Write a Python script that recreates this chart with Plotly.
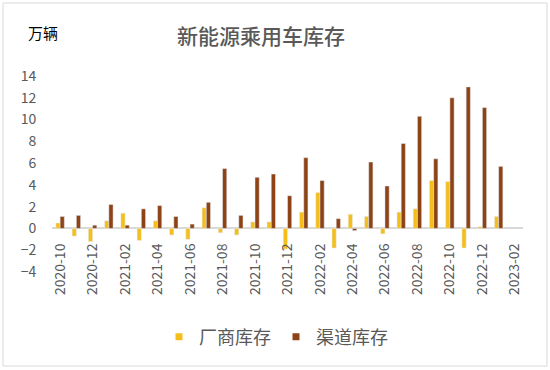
import plotly.graph_objects as go

months = ["2020-10", "2020-11", "2020-12", "2021-01", "2021-02", "2021-03", "2021-04",
          "2021-05", "2021-06", "2021-07", "2021-08", "2021-09", "2021-10", "2021-11",
          "2021-12", "2022-01", "2022-02", "2022-03", "2022-04", "2022-05", "2022-06",
          "2022-07", "2022-08", "2022-09", "2022-10", "2022-11", "2022-12", "2023-01",
          "2023-02"]
maker_stock = [0.5, -0.7, -1.2, 0.7, 1.4, -1.1, 0.7, -0.6, -1.0, 1.9, -0.4, -0.6, 0.6, 0.6,
               -1.9, 1.5, 3.3, -1.8, 1.3, 1.1, -0.5, 1.5, 1.8, 4.4, 4.3, -1.8, 0.15, 1.1, None]
channel_stock = [1.1, 1.2, 0.3, 2.2, 0.3, 1.8, 2.1, 1.1, 0.4, 2.4, 5.5, 1.2, 4.7, 5.0,
                 3.0, 6.5, 4.4, 0.9, -0.2, 6.1, 3.9, 7.8, 10.3, 6.4, 12.0, 13.0, 11.1, 5.7, None]
series_names = ["厂商库存", "渠道库存"]
tick_labels = months[::2]

YELLOW = "#F4BE1C"
BROWN = "#8E4316"
GRAY = "#595959"
FONT = "Noto Sans CJK SC"

fig = go.Figure()
fig.add_trace(go.Bar(x=months, y=maker_stock, name=series_names[0], marker_color=YELLOW,
                     showlegend=False))
fig.add_trace(go.Bar(x=months, y=channel_stock, name=series_names[1], marker_color=BROWN,
                     showlegend=False))
# legend entries with small square markers
fig.add_trace(go.Scatter(x=[None], y=[None], mode="markers", name=series_names[0],
                         marker=dict(symbol="square", size=7, color=YELLOW)))
fig.add_trace(go.Scatter(x=[None], y=[None], mode="markers", name=series_names[1],
                         marker=dict(symbol="square", size=7, color=BROWN)))

L, R, T, B = 52, 27, 76, 98
W, H = 550, 370
pw, ph = W - L - R, H - T - B
zero_pos = (43) / ph

fig.update_layout(
    width=W, height=H,
    margin=dict(l=L, r=R, t=T, b=B, autoexpand=False),
    paper_bgcolor="white", plot_bgcolor="white",
    font=dict(family=FONT, color=GRAY, size=14),
    barmode="group", bargap=0.48, bargroupgap=0,
    title=dict(text="新能源乘用车库存", x=261 / W, xanchor="center", y=1 - 37 / H,
               yanchor="middle", font=dict(size=21, color=GRAY, family=FONT, weight=500)),
    legend=dict(orientation="h", x=(276 - L) / pw, xanchor="center",
                y=(272 - 337) / ph, yanchor="middle",
                font=dict(size=18, color=GRAY, family=FONT), itemwidth=30,
                bgcolor="rgba(0,0,0,0)"),
    xaxis=dict(type="category", anchor="free", position=zero_pos,
               tickmode="array", tickvals=tick_labels, ticktext=tick_labels,
               tickangle=-90, tickfont=dict(size=14, color=GRAY),
               ticks="outside", ticklen=8, tickcolor="rgba(0,0,0,0)",
               showgrid=False, showline=False, zeroline=False, automargin=False),
    yaxis=dict(range=[-4, 14], dtick=2, showgrid=False, showline=False,
               zeroline=True, zerolinecolor="#D9D9D9", zerolinewidth=1.5,
               ticks="outside", ticklen=12, tickcolor="rgba(0,0,0,0)",
               tickfont=dict(size=14, color=GRAY), automargin=False),
    annotations=[dict(text="万辆", xref="paper", yref="paper",
                      x=(26 - L) / pw, y=(272 - 33) / ph, xanchor="left", yanchor="middle",
                      showarrow=False, font=dict(size=15, color="#000000", family=FONT))],
    shapes=[dict(type="rect", xref="paper", yref="paper",
                 x0=(3 - L) / pw, x1=(547 - L) / pw,
                 y0=(272 - 366) / ph, y1=(272 - 3) / ph,
                 line=dict(color="#D9D9D9", width=1), fillcolor="rgba(0,0,0,0)",
                 layer="below")],
)

fig.write_html("out.html", config={"displayModeBar": False},
               post_script="document.body.style.margin='0';")
